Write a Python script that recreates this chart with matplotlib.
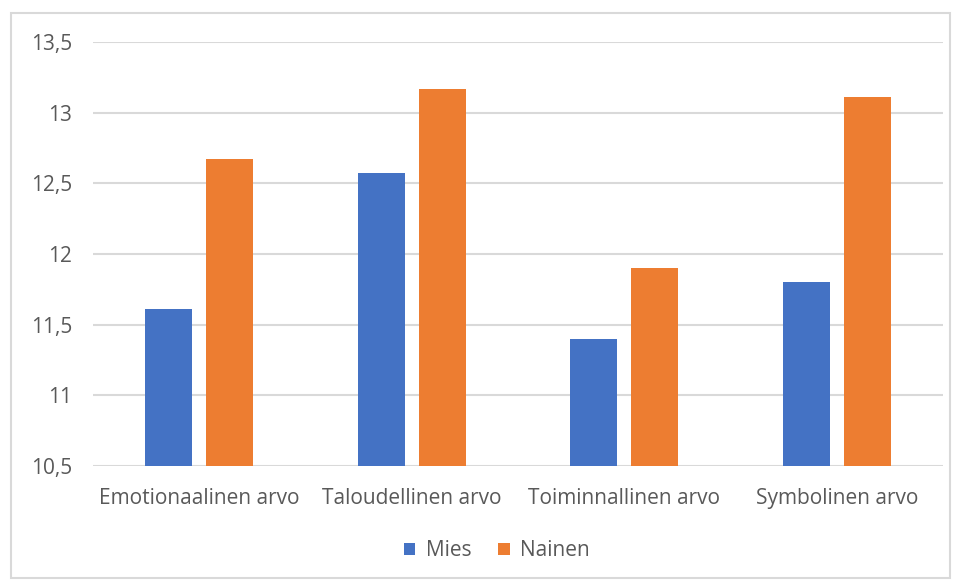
import matplotlib
matplotlib.use("Agg")
import matplotlib.pyplot as plt
from matplotlib.patches import Rectangle
from matplotlib.ticker import FuncFormatter
import numpy as np

categories = ["Emotionaalinen arvo", "Taloudellinen arvo", "Toiminnallinen arvo", "Symbolinen arvo"]
mies = [11.61, 12.57, 11.40, 11.80]
nainen = [12.67, 13.17, 11.90, 13.11]
series_names = ["Mies", "Nainen"]
colors = ["#4472C4", "#ED7D31"]

plt.rcParams["font.family"] = ["Open Sans", "DejaVu Sans"]
text_color = "#595959"
grid_color = "#D9D9D9"
fs = 15

fig = plt.figure(figsize=(9.6, 5.82), dpi=100)
fig.patch.set_facecolor("white")
fig.patches.append(Rectangle((11 / 960, 1 - 578 / 582), 939 / 960, 565 / 582,
                             transform=fig.transFigure, fill=False,
                             edgecolor=grid_color, linewidth=1.5))

ax = fig.add_axes([93 / 960, 1 - 466 / 582, 850 / 960, 424 / 582])
x = np.arange(len(categories))
w = 0.221
off = 0.1435
ax.bar(x - off, [v - 10.5 for v in mies], w, bottom=10.5, color=colors[0], label=series_names[0], zorder=3)
ax.bar(x + off, [v - 10.5 for v in nainen], w, bottom=10.5, color=colors[1], label=series_names[1], zorder=3)

ax.set_xlim(-0.5, len(categories) - 0.5)
ax.set_ylim(10.5, 13.5)
ax.set_yticks(np.arange(10.5, 13.51, 0.5))
ax.yaxis.set_major_formatter(FuncFormatter(lambda v, p: (f"{v:g}").replace(".", ",")))
ax.grid(axis="y", color=grid_color, linewidth=1.5, zorder=0)
for s in ax.spines.values():
    s.set_visible(False)
ax.tick_params(axis="y", length=0, pad=15, labelsize=fs, labelcolor=text_color)
ax.set_xticks(x)
ax.set_xticklabels(categories)
ax.tick_params(axis="x", length=0, pad=16, labelsize=fs, labelcolor=text_color)

leg = fig.legend(loc="center", bbox_to_anchor=(497 / 960, 1 - 551 / 582), ncol=2, frameon=False,
                 fontsize=fs, handlelength=0.55, handleheight=0.55, handletextpad=0.5,
                 columnspacing=1.3)
for t in leg.get_texts():
    t.set_color(text_color)

fig.savefig("out.png", dpi=100)
